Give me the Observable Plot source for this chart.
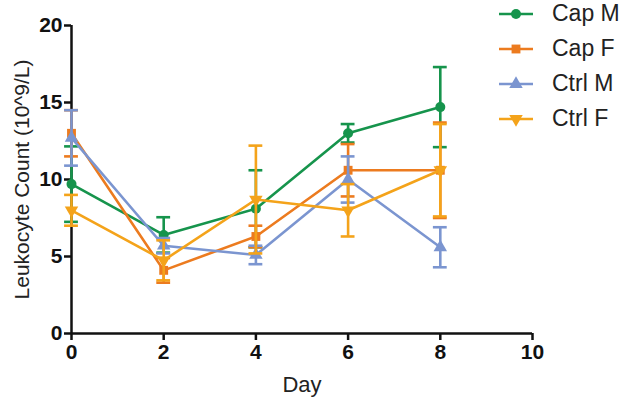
<!DOCTYPE html>
<html>
<head>
<meta charset="utf-8">
<script src="https://cdn.jsdelivr.net/npm/d3@7"></script>
<script src="https://cdn.jsdelivr.net/npm/@observablehq/plot@0.6"></script>
<style>
  html, body { margin: 0; padding: 0; background: #fff; }
  #wrap { position: relative; width: 625px; height: 406px; font-family: "Liberation Sans", Arial, sans-serif; }
  #legend { position: absolute; left: 497px; top: -4px; }
  .row { display: flex; align-items: center; height: 35px; }
  .row svg { display: block; }
  .row span { font-size: 23px; color: #222; margin-left: 17px; line-height: 1; }
  #chart svg g[aria-label="x-axis tick label"] text,
  #chart svg g[aria-label="y-axis tick label"] text { font-weight: bold; }
</style>
</head>
<body>
<div id="wrap">
  <div id="chart"></div>
  <div id="legend"></div>
</div>
<script>
const days = [0, 2, 4, 6, 8];
const seriesNames = ["Cap M", "Cap F", "Ctrl M", "Ctrl F"];
const capM = [9.7, 6.4, 8.1, 13.0, 14.7];
const capMErr = [2.45, 1.15, 2.5, 0.6, 2.6];
const capF = [13.0, 4.1, 6.3, 10.6, 10.6];
const capFErr = [1.5, 0.8, 0.7, 1.7, 3.1];
const ctrlM = [12.7, 5.7, 5.1, 10.0, 5.6];
const ctrlMErr = [1.8, 0.5, 0.6, 1.5, 1.3];
const ctrlF = [8.0, 4.75, 8.7, 8.0, 10.6];
const ctrlFErr = [1.0, 1.3, 3.5, 1.7, 3.0];
const xTicks = [0, 2, 4, 6, 8, 10];
const yTicks = [0, 5, 10, 15, 20];
const colors = ["#16944c", "#ec7b1f", "#7b95d0", "#f4a31a"];

const triDown = {
  draw(context, size) {
    const s3 = Math.sqrt(3);
    const y = -Math.sqrt(size / (s3 * 3));
    context.moveTo(0, -y * 2);
    context.lineTo(-s3 * y, y);
    context.lineTo(s3 * y, y);
    context.closePath();
  }
};
const symbols = ["circle", "square", "triangle", triDown];

const allValues = [capM, capF, ctrlM, ctrlF];
const allErrs = [capMErr, capFErr, ctrlMErr, ctrlFErr];
const series = seriesNames.map((name, k) => ({
  name, color: colors[k], symbol: symbols[k],
  rows: days.map((d, i) => ({series: name, day: d, value: allValues[k][i], err: allErrs[k][i]}))
}));

const capW = 0.15;
const sw = 2.6;
const marks = [];
for (const s of series) {
  marks.push(Plot.ruleX(s.rows, {x: "day", y1: d => d.value - d.err, y2: d => d.value + d.err, stroke: s.color, strokeWidth: sw}));
  marks.push(Plot.ruleY(s.rows, {y: d => d.value + d.err, x1: d => d.day - capW, x2: d => d.day + capW, stroke: s.color, strokeWidth: sw}));
  marks.push(Plot.ruleY(s.rows, {y: d => d.value - d.err, x1: d => d.day - capW, x2: d => d.day + capW, stroke: s.color, strokeWidth: sw}));
  marks.push(Plot.line(s.rows, {x: "day", y: "value", stroke: s.color, strokeWidth: sw}));
  marks.push(Plot.dot(s.rows, {x: "day", y: "value", fill: s.color, stroke: "none", symbol: () => s.symbol, r: 5}));
}

const chart = Plot.plot({
  width: 625,
  height: 406,
  marginLeft: 71,
  marginRight: 93,
  marginTop: 25,
  marginBottom: 73,
  style: {fontFamily: "'Liberation Sans', Arial, sans-serif", color: "#111", background: "#fff", overflow: "visible"},
  x: {domain: [0, 10]},
  y: {domain: [0, 20]},
  marks: [
    Plot.axisX({ticks: xTicks, tickSize: 7, tickPadding: 4, fontSize: 21, strokeWidth: 2.5, label: null}),
    Plot.axisY({ticks: yTicks, tickSize: 7, tickPadding: 2, fontSize: 21, strokeWidth: 2.5, label: null}),
    Plot.ruleY([0], {stroke: "#111", strokeWidth: 2.5}),
    Plot.ruleX([0], {stroke: "#111", strokeWidth: 2.5}),
    ...marks,
    Plot.text(["Day"], {frameAnchor: "bottom", dy: 58, fontSize: 22, fill: "#222"}),
    Plot.text(["Leukocyte Count (10^9/L)"], {frameAnchor: "left", textAnchor: "middle", rotate: -90, dx: -49, fontSize: 21, fill: "#222"})
  ]
});
document.getElementById("chart").appendChild(chart);

// legend
const legend = document.getElementById("legend");
for (const s of series) {
  const row = document.createElement("div");
  row.className = "row";
  const svg = d3.create("svg").attr("width", 38).attr("height", 20);
  svg.append("line").attr("x1", 2).attr("x2", 36).attr("y1", 10).attr("y2", 10)
    .attr("stroke", s.color).attr("stroke-width", sw);
  const sym = typeof s.symbol === "string"
    ? {circle: d3.symbolCircle, square: d3.symbolSquare, triangle: d3.symbolTriangle}[s.symbol]
    : s.symbol;
  svg.append("path").attr("transform", "translate(19,10)")
    .attr("d", d3.symbol(sym, Math.PI * 25)()).attr("fill", s.color);
  row.appendChild(svg.node());
  const t = document.createElement("span");
  t.textContent = s.name;
  row.appendChild(t);
  legend.appendChild(row);
}
</script>
</body>
</html>
